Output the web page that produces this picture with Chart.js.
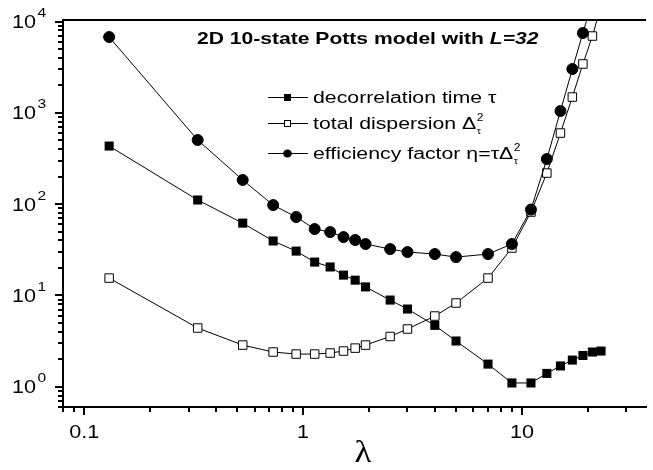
<!DOCTYPE html>
<html><head><meta charset="utf-8">
<script src="https://cdn.jsdelivr.net/npm/chart.js@4/dist/chart.umd.min.js"></script>
<style>html,body{margin:0;padding:0;background:#fff;}#wrap{width:653px;height:470px;position:relative;}</style>
</head><body><div id="wrap"><canvas id="c" width="653" height="470"></canvas></div>
<script>
// ---- data ----
const lambdaValues = [0.13,0.33,0.53,0.73,0.93,1.13,1.33,1.53,1.73,1.93,2.5,3,4,5,7,9,11,13,15,17,19,21,23];
const decorrelationTime = [433,111,62,39.5,30.6,23.2,20.5,16.7,14.7,12.4,8.9,7.1,4.7,3.17,1.77,1.10,1.10,1.40,1.69,1.96,2.20,2.40,2.46];
const totalDispersion = [15.5,4.40,2.86,2.40,2.28,2.28,2.34,2.46,2.65,2.86,3.55,4.29,5.95,8.26,15.5,33.1,82,219,601,1490,3430,6940,15000];
const efficiencyFactor = [6770,504,184,97.7,72.3,53.4,49.5,43.6,40.5,36.6,32.2,29.9,28.4,26.3,28.4,36.6,87.3,312,1047,3020,7480,17000,38000];
const xTickValues = [0.1, 1, 10];
const xTickLabels = ['0.1', '1', '10'];
const yTickValues = [1, 10, 100, 1000, 10000];
const yTickExponents = ['0', '1', '2', '3', '4'];
const titleText = '2D 10-state Potts model with ';
const titleItalic = 'L=32';
const xAxisTitle = 'λ';
const legendLabels = ['decorrelation time τ', 'total dispersion Δ', 'efficiency factor η=τΔ'];

const SX = 1.2;   // horizontal text stretch of the reference
const SXT = 1.24; // title stretch
const SXL = 1.33; // legend stretch

function pts(ys){ return lambdaValues.map((x,i)=>({x:x, y:ys[i]})); }

function txt(ctx, s, x, y, font, align, sx){
  ctx.save();
  ctx.font = font;
  const w = ctx.measureText(s).width * sx;
  let x0 = x;
  if (align === 'right') x0 = x - w; else if (align === 'center') x0 = x - w/2;
  ctx.translate(x0, y); ctx.scale(sx, 1);
  ctx.textAlign = 'left'; ctx.textBaseline = 'alphabetic';
  ctx.fillStyle = '#000';
  ctx.fillText(s, 0, 0);
  ctx.restore();
  return w;
}

function marker(ctx, style, x, y, r){
  ctx.save();
  ctx.fillStyle = '#000'; ctx.strokeStyle = '#000'; ctx.lineWidth = 1;
  if (style === 'filledRect'){ ctx.fillRect(x-r, y-r, 2*r, 2*r); }
  else if (style === 'openRect'){ ctx.fillStyle='#fff'; ctx.fillRect(x-r, y-r, 2*r, 2*r); ctx.strokeRect(x-r+0.5, y-r+0.5, 2*r-1, 2*r-1); }
  else { ctx.beginPath(); ctx.ellipse(x, y, r*1.1, r, 0, 0, Math.PI*2); ctx.fill(); }
  ctx.restore();
}

const deco = {
  id: 'deco',
  afterDraw(chart){
    const ctx = chart.ctx, a = chart.chartArea;
    const xs = chart.scales.x, ys = chart.scales.y;
    ctx.save();
    ctx.strokeStyle = '#000'; ctx.lineWidth = 2;
    // top frame line
    ctx.beginPath(); ctx.moveTo(a.left-1, a.top); ctx.lineTo(a.right, a.top); ctx.stroke();
    // y ticks
    for (let e = -1; e <= 4; e++){
      for (let m = 1; m <= 9; m++){
        const v = m * Math.pow(10, e);
        if (v < ys.min*0.999 || v > ys.max*1.001) continue;
        const p = Math.round(ys.getPixelForValue(v));
        const len = m === 1 ? 8 : 5;
        ctx.beginPath(); ctx.moveTo(a.left - len, p); ctx.lineTo(a.left, p); ctx.stroke();
      }
    }
    // x ticks
    for (let e = -2; e <= 2; e++){
      for (let m = 1; m <= 9; m++){
        const v = m * Math.pow(10, e);
        if (v < xs.min*0.999 || v > xs.max*1.001) continue;
        const p = Math.round(xs.getPixelForValue(v));
        const len = m === 1 ? 8 : 5;
        ctx.beginPath(); ctx.moveTo(p, a.bottom); ctx.lineTo(p, a.bottom + len); ctx.stroke();
      }
    }
    ctx.restore();
    // y tick labels
    yTickValues.forEach((v,i)=>{
      const p = ys.getPixelForValue(v);
      txt(ctx, '10', 36, p + 6.5, '18px "Liberation Sans"', 'right', SX);
      txt(ctx, yTickExponents[i], 37.5, p - 4.5, '13px "Liberation Sans"', 'left', SX);
    });
    // x tick labels
    xTickValues.forEach((v,i)=>{
      const p = xs.getPixelForValue(v);
      txt(ctx, xTickLabels[i], p, 438, '18px "Liberation Sans"', 'center', SX);
    });
    // axis title
    txt(ctx, xAxisTitle, 363, 462, '32px "Liberation Serif"', 'center', 1.1);
    // chart title
    const w1 = txt(ctx, titleText, 197, 43.5, 'bold 17px "Liberation Sans"', 'left', SXT);
    txt(ctx, titleItalic, 197 + w1, 43.5, 'italic bold 17px "Liberation Sans"', 'left', SXT);
    // legend
    const rows = [
      {y: 97, style: 'filledRect', r: 3.5},
      {y: 123, style: 'openRect', r: 3.5},
      {y: 153, style: 'circle', r: 4}
    ];
    const lf = '16px "Liberation Sans"';
    rows.forEach((row, i)=>{
      ctx.save(); ctx.strokeStyle='#000'; ctx.lineWidth=1;
      ctx.beginPath(); ctx.moveTo(268, row.y+0.5); ctx.lineTo(308, row.y+0.5); ctx.stroke(); ctx.restore();
      marker(ctx, row.style, 287.5, row.y+0.5, row.r);
      const w = txt(ctx, legendLabels[i], 313, row.y + 5.5, lf, 'left', SXL);
      if (i > 0){
        txt(ctx, '2', 313 + w + 0.5, row.y - 2.5, '10px "Liberation Sans"', 'left', SX);
        txt(ctx, 'τ', 313 + w + 0.5, row.y + 11, '9px "Liberation Sans"', 'left', SX);
      }
    });
  }
};

new Chart(document.getElementById('c').getContext('2d'), {
  type: 'line',
  data: {
    datasets: [
      {label: 'efficiency factor', data: pts(efficiencyFactor), order: 0,
       borderColor: '#000', borderWidth: 1, pointStyle: 'circle', pointRadius: 5.5,
       pointBackgroundColor: '#000', pointBorderColor: '#000', pointBorderWidth: 1, fill: false, tension: 0},
      {label: 'decorrelation time', data: pts(decorrelationTime), order: 1,
       borderColor: '#000', borderWidth: 1, pointStyle: 'rect', pointRadius: 6.4,
       pointBackgroundColor: '#000', pointBorderColor: '#000', pointBorderWidth: 0, fill: false, tension: 0},
      {label: 'total dispersion', data: pts(totalDispersion), order: 2,
       borderColor: '#000', borderWidth: 1, pointStyle: 'rect', pointRadius: 6,
       pointBackgroundColor: '#fff', pointBorderColor: '#000', pointBorderWidth: 1, fill: false, tension: 0}
    ]
  },
  options: {
    responsive: false, animation: false, devicePixelRatio: 1,
    layout: {padding: {left: 63, top: 20, right: 0, bottom: 63}},
    plugins: {legend: {display: false}, tooltip: {enabled: false}, title: {display: false}},
    scales: {
      x: {type: 'logarithmic', min: 0.08, max: 36.9,
          ticks: {display: false}, grid: {display: false, drawTicks: false},
          border: {display: true, color: '#000', width: 2}},
      y: {type: 'logarithmic', min: 0.6, max: 10400,
          ticks: {display: false}, grid: {display: false, drawTicks: false},
          border: {display: true, color: '#000', width: 2}}
    }
  },
  plugins: [deco]
});
</script></body></html>
